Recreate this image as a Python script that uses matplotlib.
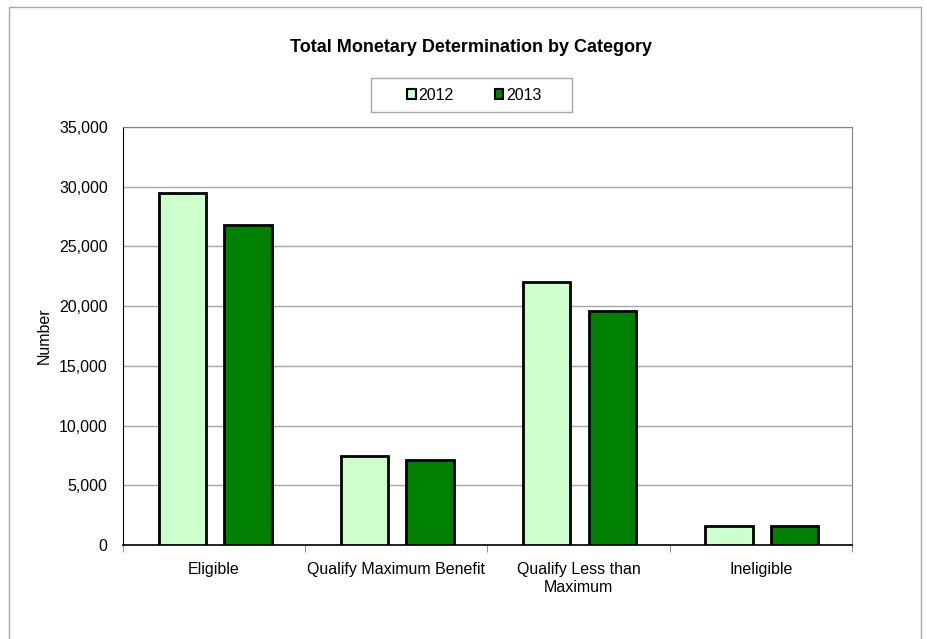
import matplotlib.pyplot as plt
from matplotlib.patches import Rectangle
import numpy as np

categories = ['Eligible', 'Qualify Maximum Benefit', 'Qualify Less than\nMaximum', 'Ineligible']
series_names = ['2012', '2013']
values_2012 = [29500, 7450, 22050, 1620]
values_2013 = [26780, 7150, 19620, 1620]
y_ticks = [0, 5000, 10000, 15000, 20000, 25000, 30000, 35000]

plt.rcParams['font.family'] = ['Liberation Sans Narrow', 'Liberation Sans', 'DejaVu Sans']

fig = plt.figure(figsize=(9.28, 6.39), dpi=100)
ax = fig.add_axes([123 / 928, 1 - 545 / 639, 729 / 928, 418 / 639])

# outer chart-area border
fig.patches.append(Rectangle((9 / 928, -0.05), 912 / 928, 1 - 7 / 639 + 0.05,
                             transform=fig.transFigure, fill=False,
                             edgecolor='#a6a6a6', lw=1))
# legend box
fig.patches.append(Rectangle((371 / 928, 1 - 112 / 639), 201 / 928, 34 / 639,
                             transform=fig.transFigure, fill=False,
                             edgecolor='#a6a6a6', lw=1))

x = np.arange(len(categories))
w = 0.26
ax.bar(x - 0.175, values_2012, w, color='#ccffcc', edgecolor='black', lw=2,
       label=series_names[0], zorder=3)
ax.bar(x + 0.185, values_2013, w, color='#008000', edgecolor='black', lw=2,
       label=series_names[1], zorder=3)

ax.set_xlim(-0.5, 3.5)
ax.set_ylim(0, 35000)
ax.set_yticks(y_ticks)
ax.set_yticklabels(['{:,}'.format(v) for v in y_ticks], fontsize=11.5)
ax.yaxis.grid(True, color='#a6a6a6', lw=1, zorder=0)

ax.set_xticks(x)
ax.set_xticklabels(categories, fontsize=11.5, linespacing=1.3)
ax.tick_params(axis='x', length=0, pad=12)
ax.set_xticks(np.arange(-0.5, 4.0, 1), minor=True)
ax.tick_params(axis='x', which='minor', length=5, color='#808080', direction='out')
ax.tick_params(axis='y', length=0, pad=11)

for s in ['top', 'right']:
    ax.spines[s].set_color('#808080')
ax.spines['left'].set_color('black')
ax.spines['bottom'].set_color('black')
ax.spines['bottom'].set_linewidth(1.2)

ax.set_ylabel('Number', fontsize=11.5, labelpad=5)
fig.text(0.508, 1 - 48 / 639, 'Total Monetary Determination by Category',
         ha='center', va='center', fontsize=13, fontweight='bold')

leg = ax.legend(loc='center', bbox_to_anchor=(474 / 928, 1 - 95 / 639),
                bbox_transform=fig.transFigure, ncol=2, fontsize=11.5,
                frameon=False, handlelength=0.55, handleheight=0.55,
                handletextpad=0.15, columnspacing=2.6, borderpad=0,
                borderaxespad=0)
for h in leg.legend_handles:
    h.set_linewidth(1.5)

fig.savefig('out.png', dpi=100)
